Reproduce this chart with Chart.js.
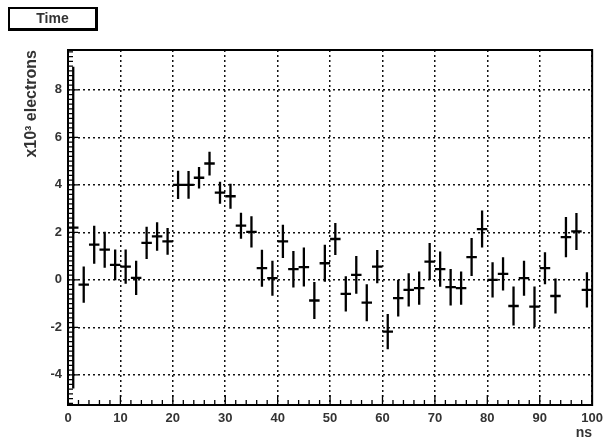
<!DOCTYPE html>
<html>
<head>
<meta charset="utf-8">
<script src="https://cdn.jsdelivr.net/npm/chart.js@4.4.0/dist/chart.umd.min.js"></script>
<style>
    body { margin: 0; background: #fff; }
    #wrap { position: relative; width: 609px; height: 442px; }
    #titulo {
        position: absolute; left: 8px; top: 7px; width: 85px; height: 19px;
        border: 2px solid #000; border-right-width: 3px; border-bottom-width: 3px;
        font: bold 14px "Liberation Sans", Arial, sans-serif; color: #333;
        text-align: center; line-height: 19px;
    }
</style>
</head>
<body>
<div id="wrap">
    <canvas id="grafico" width="609" height="442"></canvas>
    <div id="titulo">Time</div>
</div>
<script>
// bin centers (ns), values (x10^3 electrons) and errors
const centros = [1, 3, 5, 7, 9, 11, 13, 15, 17, 19, 21, 23, 25, 27, 29, 31, 33, 35, 37, 39,
    41, 43, 45, 47, 49, 51, 53, 55, 57, 59, 61, 63, 65, 67, 69, 71, 73, 75, 77, 79,
    81, 83, 85, 87, 89, 91, 93, 95, 97, 99]
const valores = [2.2, -0.2, 1.48, 1.27, 0.63, 0.56, 0.08, 1.56, 1.83, 1.62, 4.0, 4.0, 4.3, 4.9, 3.67, 3.52, 2.28, 2.02, 0.49, 0.07,
    1.62, 0.45, 0.54, -0.87, 0.7, 1.72, -0.59, 0.21, -0.96, 0.56, -2.18, -0.77, -0.42, -0.35, 0.77, 0.45, -0.31, -0.35, 0.96, 2.14,
    0.0, 0.25, -1.1, 0.07, -1.13, 0.49, -0.68, 1.8, 2.04, -0.42]
const errores = [6.77, 0.76, 0.8, 0.76, 0.65, 0.72, 0.72, 0.68, 0.6, 0.56, 0.6, 0.58, 0.45, 0.5, 0.46, 0.53, 0.55, 0.66, 0.78, 0.74,
    0.7, 0.77, 0.82, 0.78, 0.78, 0.67, 0.74, 0.8, 0.78, 0.7, 0.74, 0.77, 0.7, 0.7, 0.78, 0.74, 0.77, 0.7, 0.8, 0.78,
    0.74, 0.7, 0.82, 0.74, 0.85, 0.67, 0.74, 0.85, 0.78, 0.74]
const anchoBin = 2
const ticksX = [0, 10, 20, 30, 40, 50, 60, 70, 80, 90, 100]
const ticksY = [-4, -2, 0, 2, 4, 6, 8]

const familia = '"Liberation Sans", Arial, sans-serif'
const fuenteTicks = { family: familia, size: 13, weight: 'bold' }

// horizontal bar over the bin plus vertical error bar, gaps between them
function puntos() {
    let pts = []
    for (let i = 0; i < centros.length; i++) {
        let c = centros[i], v = valores[i], e = errores[i]
        pts.push({ x: c - anchoBin / 2, y: v }, { x: c + anchoBin / 2, y: v }, { x: c, y: null })
        pts.push({ x: c, y: v - e }, { x: c, y: v + e }, { x: c, y: null })
    }
    return pts
}

// ROOT style frame and inner ticks
const marco = {
    id: 'marco',
    afterDraw(chart) {
        let ctx = chart.ctx
        let a = chart.chartArea
        let sx = chart.scales.x, sy = chart.scales.y
        ctx.save()
        ctx.strokeStyle = '#000'
        ctx.lineWidth = 1.3
        ctx.beginPath()
        for (let v = 0; v <= 100; v += 2) {
            let px = sx.getPixelForValue(v)
            let l = v % 10 == 0 ? 10 : 5
            ctx.moveTo(px, a.bottom)
            ctx.lineTo(px, a.bottom - l)
        }
        for (let k = -26; k <= 48; k++) {
            let v = k * 0.2
            let py = sy.getPixelForValue(v)
            if (py < a.top || py > a.bottom) continue
            let l = k % 10 == 0 ? 10 : 5
            ctx.moveTo(a.left, py)
            ctx.lineTo(a.left + l, py)
        }
        ctx.stroke()
        ctx.lineWidth = 2
        ctx.strokeRect(a.left, a.top, a.right - a.left, a.bottom - a.top)
        ctx.restore()
    }
}

let canvas = document.getElementById('grafico').getContext('2d')
let chart = new Chart(canvas, {
    type: 'scatter',
    data: {
        datasets: [{
            data: puntos(),
            showLine: true,
            spanGaps: false,
            borderColor: '#000',
            borderWidth: 2.3,
            pointRadius: 0
        }]
    },
    options: {
        responsive: false,
        animation: false,
        layout: { padding: { top: 50, right: 11, left: 0, bottom: 0 } },
        plugins: { legend: { display: false }, tooltip: { enabled: false } },
        scales: {
            x: {
                type: 'linear', min: 0, max: 100,
                afterFit(s) { s.height = 37 },
                afterBuildTicks(s) { s.ticks = ticksX.map(v => ({ value: v })) },
                grid: { color: '#111', lineWidth: 1.5, drawTicks: false },
                border: { display: false, dash: [2, 3] },
                ticks: { color: '#333', font: fuenteTicks, padding: 6, maxRotation: 0 },
                title: { display: true, text: 'ns', align: 'end', color: '#333', font: { family: familia, size: 14, weight: 'bold' }, padding: { top: 0, bottom: 0 } }
            },
            y: {
                type: 'linear', min: -5.27, max: 9.68,
                afterFit(s) { s.width = 68 },
                afterBuildTicks(s) { s.ticks = ticksY.map(v => ({ value: v })) },
                grid: { color: '#111', lineWidth: 1.5, drawTicks: false },
                border: { display: false, dash: [2, 3] },
                ticks: { color: '#333', font: fuenteTicks, padding: 6 },
                title: { display: true, text: 'x10³ electrons', align: 'end', color: '#333', font: { family: familia, size: 16, weight: 'bold' }, padding: { top: 22, bottom: 0 } }
            }
        }
    },
    plugins: [marco]
})
</script>
</body>
</html>
